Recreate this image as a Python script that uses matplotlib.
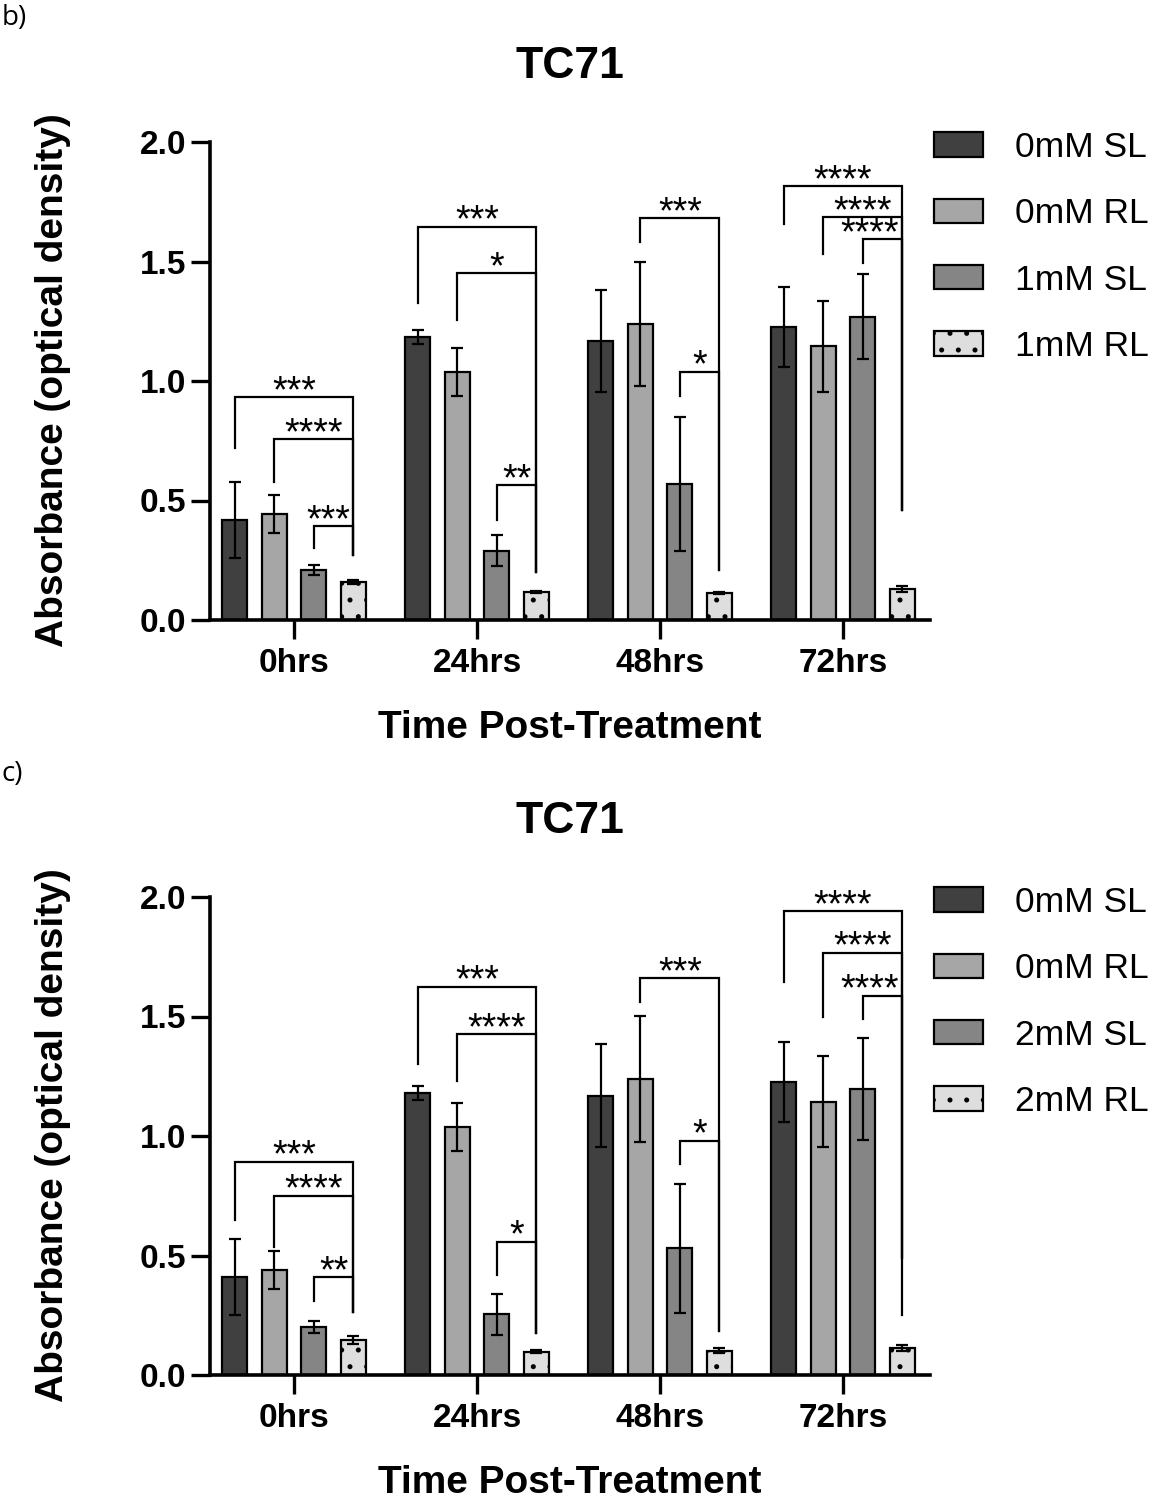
import matplotlib
matplotlib.use('Agg')
import matplotlib.pyplot as plt
import numpy as np
from matplotlib.patches import Patch

plt.rcParams['font.family'] = ['Liberation Sans', 'DejaVu Sans']
plt.rcParams['hatch.linewidth'] = 1.2

# ---------------- data ----------------
time_points = ['0hrs', '24hrs', '48hrs', '72hrs']

series_b = ['0mM SL', '0mM RL', '1mM SL', '1mM RL']
means_b_0mM_SL = [0.418, 1.184, 1.167, 1.226]
means_b_0mM_RL = [0.444, 1.038, 1.238, 1.146]
means_b_1mM_SL = [0.209, 0.289, 0.569, 1.268]
means_b_1mM_RL = [0.159, 0.117, 0.113, 0.130]
err_b_0mM_SL = [0.160, 0.030, 0.215, 0.167]
err_b_0mM_RL = [0.080, 0.100, 0.260, 0.190]
err_b_1mM_SL = [0.021, 0.065, 0.280, 0.178]
err_b_1mM_RL = [0.009, 0.005, 0.005, 0.012]

series_c = ['0mM SL', '0mM RL', '2mM SL', '2mM RL']
means_c_0mM_SL = [0.411, 1.180, 1.169, 1.226]
means_c_0mM_RL = [0.439, 1.038, 1.238, 1.144]
means_c_2mM_SL = [0.200, 0.255, 0.531, 1.197]
means_c_2mM_RL = [0.146, 0.098, 0.102, 0.113]
err_c_0mM_SL = [0.160, 0.030, 0.215, 0.167]
err_c_0mM_RL = [0.080, 0.100, 0.263, 0.190]
err_c_2mM_SL = [0.024, 0.086, 0.270, 0.215]
err_c_2mM_RL = [0.016, 0.008, 0.009, 0.011]

# significance brackets: (time index, left series index, bracket height,
#                         left leg bottom, right leg bottom, label); right end = last series
brackets_b = [
    (0, 0, 0.933, 0.720, 0.270, '***'),
    (0, 1, 0.757, 0.577, 0.270, '****'),
    (0, 2, 0.393, 0.300, 0.270, '***'),
    (1, 0, 1.645, 1.326, 0.200, '***'),
    (1, 1, 1.452, 1.255, 0.200, '*'),
    (1, 2, 0.565, 0.418, 0.200, '**'),
    (2, 1, 1.682, 1.580, 0.209, '***'),
    (2, 2, 1.038, 0.937, 0.209, '*'),
    (3, 0, 1.816, 1.657, 0.460, '****'),
    (3, 1, 1.686, 1.531, 0.460, '****'),
    (3, 2, 1.594, 1.494, 0.460, '****'),
]
brackets_c = [
    (0, 0, 0.893, 0.648, 0.265, '***'),
    (0, 1, 0.750, 0.537, 0.265, '****'),
    (0, 2, 0.410, 0.311, 0.265, '**'),
    (1, 0, 1.625, 1.301, 0.175, '***'),
    (1, 1, 1.426, 1.230, 0.175, '****'),
    (1, 2, 0.558, 0.418, 0.175, '*'),
    (2, 1, 1.661, 1.562, 0.186, '***'),
    (2, 2, 0.980, 0.883, 0.186, '*'),
    (3, 0, 1.941, 1.646, 0.250, '****'),
    (3, 1, 1.766, 1.500, 0.490, '****'),
    (3, 2, 1.587, 1.490, 0.490, '****'),
]

y_ticks = [0.0, 0.5, 1.0, 1.5, 2.0]

# ---------------- style ----------------
colors = ['#404040', '#a6a6a6', '#858585', '#dedede']
hatches = [None, None, None, '.']
PITCH = 0.216
WIDTH = 0.137


def draw_panel(ax, series, means, errs, brackets):
    n = len(series)
    x = np.arange(len(time_points))
    handles = []
    for i, (name, m, e) in enumerate(zip(series, means, errs)):
        pos = x + (i - (n - 1) / 2) * PITCH
        ax.bar(pos, m, WIDTH, color=colors[i], edgecolor='black', linewidth=1.6,
               hatch=hatches[i], zorder=2)
        ax.errorbar(pos, m, yerr=e, fmt='none', ecolor='black', elinewidth=1.6,
                    capsize=4.5, capthick=1.6, zorder=3)
        handles.append(Patch(facecolor=colors[i], edgecolor='black', linewidth=1.6,
                             hatch=hatches[i], label=name))

    for (g, li, yb, lbot, rbot, lab) in brackets:
        xl = g + (li - (n - 1) / 2) * PITCH
        xr = g + ((n - 1) - (n - 1) / 2) * PITCH
        ax.plot([xl, xl, xr, xr], [lbot, yb, yb, rbot], color='black', lw=1.6,
                solid_joinstyle='miter', clip_on=False, zorder=4)
        est_w = len(lab) * 0.079
        if est_w > (xr - xl):
            tx, ha = xr - 0.02, 'right'
        else:
            tx, ha = (xl + xr) / 2, 'center'
        ax.annotate(lab, (tx, yb), xytext=(0, -3.5), textcoords='offset points',
                    ha=ha, va='baseline', fontsize=27, annotation_clip=False)

    ax.set_xlim(-0.46, 3.475)
    ax.set_ylim(0, 2.0)
    ax.set_xticks(x)
    ax.set_xticklabels(time_points, fontsize=24, fontweight='bold')
    ax.set_yticks(y_ticks)
    ax.set_yticklabels([f'{v:.1f}' for v in y_ticks], fontsize=24, fontweight='bold')
    ax.tick_params(axis='both', length=14, width=2.4, direction='out')
    ax.tick_params(axis='x', pad=6)
    ax.tick_params(axis='y', pad=3)
    for s in ['top', 'right']:
        ax.spines[s].set_visible(False)
    for s in ['left', 'bottom']:
        ax.spines[s].set_linewidth(2.6)

    ax.text(0.5, 1.134, 'TC71', transform=ax.transAxes, ha='center', va='baseline',
            fontsize=32, fontweight='bold')
    ax.text(0.5, -0.247, 'Time Post-Treatment', transform=ax.transAxes, ha='center',
            va='baseline', fontsize=28, fontweight='bold')
    ax.text(-0.218, 0.502, 'Absorbance (optical density)', transform=ax.transAxes,
            ha='center', va='center', rotation=90, fontsize=28, fontweight='bold')

    ax.legend(handles=handles, loc='upper left', bbox_to_anchor=(1.0056, 1.023),
              frameon=False, fontsize=25.5, handlelength=1.38, handleheight=0.68,
              handletextpad=0.9, labelspacing=0.94, borderpad=0, borderaxespad=0)


W, H = 1165, 1496
fig = plt.figure(figsize=(W / 100, H / 100), dpi=100)

left = 210 / W
width = 720 / W
height = 478 / H
ax_b = fig.add_axes([left, (H - 620) / H, width, height])
ax_c = fig.add_axes([left, (H - 1375) / H, width, height])

draw_panel(ax_b, series_b,
           [means_b_0mM_SL, means_b_0mM_RL, means_b_1mM_SL, means_b_1mM_RL],
           [err_b_0mM_SL, err_b_0mM_RL, err_b_1mM_SL, err_b_1mM_RL], brackets_b)
draw_panel(ax_c, series_c,
           [means_c_0mM_SL, means_c_0mM_RL, means_c_2mM_SL, means_c_2mM_RL],
           [err_c_0mM_SL, err_c_0mM_RL, err_c_2mM_SL, err_c_2mM_RL], brackets_c)

fig.text(0.001, 1 - 25 / H, 'b)', fontsize=20, va='baseline', ha='left',
         family=['Open Sans', 'DejaVu Sans'])
fig.text(0.001, 1 - 781 / H, 'c)', fontsize=20, va='baseline', ha='left',
         family=['Open Sans', 'DejaVu Sans'])

fig.savefig('out.png', dpi=100)
